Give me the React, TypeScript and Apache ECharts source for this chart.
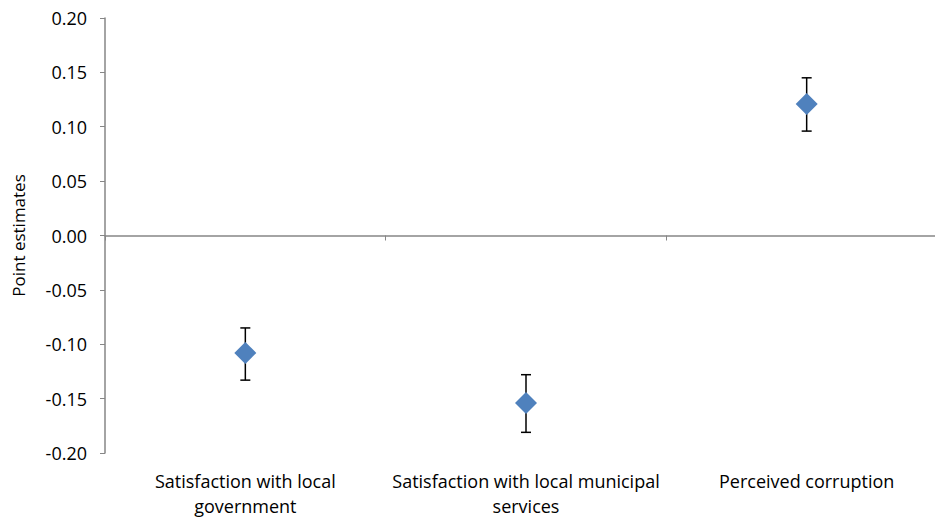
import React, { useEffect, useRef } from "react";
import * as echarts from "echarts";

const categories = [
  "Satisfaction with local\ngovernment",
  "Satisfaction with local municipal\nservices",
  "Perceived corruption",
];
const estimates = [-0.108, -0.154, 0.121];
const lowerBounds = [-0.133, -0.181, 0.096];
const upperBounds = [-0.085, -0.128, 0.145];

const FONT = "'Open Sans', 'Liberation Sans', sans-serif";

export default function App() {
  const ref = useRef<HTMLDivElement>(null);
  useEffect(() => {
    if (!ref.current) return;
    const chart = echarts.init(ref.current, undefined, { renderer: "svg" });
    const errData = categories.map((_, i) => [i, lowerBounds[i], upperBounds[i]]);
    chart.setOption({
      animation: false,
      backgroundColor: "#ffffff",
      textStyle: { fontFamily: FONT },
      grid: { left: 105, top: 18, width: 842, bottom: 66, containLabel: false },
      xAxis: [
        {
          type: "category",
          data: categories,
          position: "bottom",
          axisLine: { show: false, onZero: false },
          axisTick: { show: false },
          splitLine: { show: false },
          axisLabel: {
            color: "#000000",
            fontSize: 18,
            fontFamily: FONT,
            margin: 15,
            lineHeight: 25,
            interval: 0,
          },
        },
        {
          type: "category",
          data: categories,
          position: "top",
          axisLine: { show: true, onZero: true, lineStyle: { color: "#868686", width: 1.5 } },
          axisTick: { show: true, inside: true, length: 5, lineStyle: { color: "#868686" } },
          axisLabel: { show: false },
          splitLine: { show: false },
        },
      ],
      yAxis: {
        type: "value",
        min: -0.2,
        max: 0.2,
        interval: 0.05,
        name: "Point estimates",
        nameLocation: "middle",
        nameGap: 78,
        nameTextStyle: { color: "#000000", fontSize: 17, fontFamily: FONT },
        axisLine: { show: true, lineStyle: { color: "#868686", width: 1.5 } },
        axisTick: { show: true, length: 5, lineStyle: { color: "#868686" } },
        splitLine: { show: false },
        axisLabel: {
          color: "#000000",
          fontSize: 18,
          fontFamily: FONT,
          margin: 18,
          formatter: (v: number) => v.toFixed(2),
        },
      },
      series: [
        {
          type: "custom",
          xAxisIndex: 0,
          data: errData,
          z: 2,
          renderItem: (params: any, api: any) => {
            const x = api.value(0);
            const lo = api.coord([x, api.value(1)]);
            const hi = api.coord([x, api.value(2)]);
            const hw = 5;
            const style = { stroke: "#000000", lineWidth: 1.5 };
            return {
              type: "group",
              children: [
                { type: "line", shape: { x1: lo[0], y1: lo[1], x2: hi[0], y2: hi[1] }, style },
                { type: "line", shape: { x1: lo[0] - hw, y1: lo[1], x2: lo[0] + hw, y2: lo[1] }, style },
                { type: "line", shape: { x1: hi[0] - hw, y1: hi[1], x2: hi[0] + hw, y2: hi[1] }, style },
              ],
            };
          },
        },
        {
          type: "scatter",
          xAxisIndex: 0,
          data: estimates,
          symbol: "diamond",
          symbolSize: 22,
          z: 3,
          itemStyle: { color: "#4F81BD", opacity: 1 },
        },
      ],
    });
    return () => chart.dispose();
  }, []);
  return (
    <div style={{ position: "fixed", left: 0, top: 0, width: 935, height: 519, overflow: "hidden", background: "#fff" }}>
      <div ref={ref} style={{ width: 960, height: 519 }} />
    </div>
  );
}
